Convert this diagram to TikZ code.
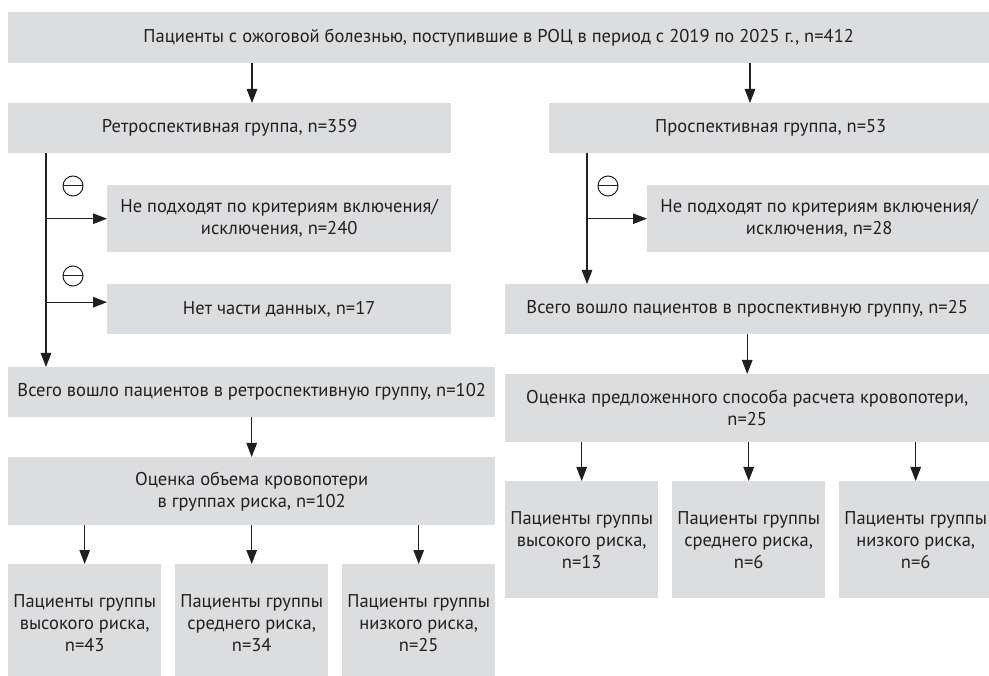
\documentclass[tikz,border=0pt]{standalone}
\usepackage{fontspec}
\setmainfont{PT Sans}
\usetikzlibrary{arrows.meta}
\definecolor{boxgray}{HTML}{DCDDDE}
\definecolor{ink}{HTML}{231F20}
\tikzset{
  box/.style={fill=boxgray, draw=none, anchor=north west, inner sep=0pt, align=center,
    font=\fontsize{18.5}{22}\selectfont, text=ink},
  arr/.style={-{Triangle[width=10.5pt,length=14pt]}, line width=1.2pt, draw=ink},
  minussign/.style={circle, draw=ink, line width=1pt, minimum size=20pt, inner sep=0pt,
    path picture={\draw[ink, line width=1pt] (path picture bounding box.west) -- (path picture bounding box.east);}}
}
\begin{document}
\begin{tikzpicture}[x=1pt,y=-1pt]
\useasboundingbox (0,0) rectangle (989,676);
\clip (0,0) rectangle (989,676);
% boxes
\node[box, minimum width=981, minimum height=51] (top) at (8,12)
  {Пациенты с ожоговой болезнью, поступившие в РОЦ в период с 2019 по 2025 г., n=412};
\node[box, minimum width=443, minimum height=50] (retro) at (8,103) {Ретроспективная группа, n=359};
\node[box, minimum width=443, minimum height=50] (prosp) at (549,103) {Проспективная группа, n=53};
\node[box, minimum width=344, minimum height=67] (excl1) at (107,185)
  {Не подходят по критериям включения/\\исключения, n=240};
\node[box, minimum width=344, minimum height=50] (excl2) at (107,284) {Нет части данных, n=17};
\node[box, minimum width=487, minimum height=50] (retroall) at (8,367)
  {Всего вошло пациентов в ретроспективную группу, n=102};
\node[box, minimum width=487, minimum height=68] (retroeval) at (8,457)
  {Оценка объема кровопотери\\в группах риска, n=102};
\node[box, minimum width=153, minimum height=117] (l1) at (8,564)
  {Пациенты группы\\высокого риска,\\n=43};
\node[box, minimum width=153, minimum height=117] (l2) at (175,564)
  {Пациенты группы\\среднего риска,\\n=34};
\node[box, minimum width=153, minimum height=117] (l3) at (342,564)
  {Пациенты группы\\низкого риска,\\n=25};
\node[box, minimum width=344, minimum height=67] (exclr) at (647,185)
  {Не подходят по критериям включения/\\исключения, n=28};
\node[box, minimum width=484, minimum height=50] (prospall) at (505,284)
  {Всего вошло пациентов в проспективную группу, n=25};
\node[box, minimum width=484, minimum height=68] (prospeval) at (505,374)
  {Оценка предложенного способа расчета кровопотери,\\n=25};
\node[box, minimum width=153, minimum height=117] (r1) at (505,481)
  {Пациенты группы\\высокого риска,\\n=13};
\node[box, minimum width=153, minimum height=117] (r2) at (672,481)
  {Пациенты группы\\среднего риска,\\n=6};
\node[box, minimum width=153, minimum height=117] (r3) at (839,481)
  {Пациенты группы\\низкого риска,\\n=6};
% helper coordinates
\coordinate (a1) at (252,0);
\coordinate (a2) at (750,0);
\coordinate (v1) at (46,0);
\coordinate (v2) at (587,0);
\coordinate (e2) at ([yshift=7pt]excl2.west);
% connectors
\draw[arr] (top.south -| a1) -- (retro.north -| a1);
\draw[arr] (top.south -| a2) -- (prosp.north -| a2);
\draw[arr] (retro.south -| v1) -- (retroall.north -| v1);
\draw[arr] (excl1.west -| v1) -- (excl1.west);
\draw[arr] (e2 -| v1) -- (e2);
\draw[arr] (retroall.south) -- (retroeval.north);
\draw[arr] (retroeval.south -| l1.north) -- (l1.north);
\draw[arr] (retroeval.south -| l2.north) -- (l2.north);
\draw[arr] (retroeval.south -| l3.north) -- (l3.north);
\draw[arr] (prosp.south -| v2) -- (prospall.north -| v2);
\draw[arr] (exclr.west -| v2) -- (exclr.west);
\draw[arr] (prospall.south) -- (prospeval.north);
\draw[arr] (prospeval.south -| r1.north) -- (r1.north);
\draw[arr] (prospeval.south -| r2.north) -- (r2.north);
\draw[arr] (prospeval.south -| r3.north) -- (r3.north);
% exclusion marks
\node[minussign] (m1) at (73,186) {};
\node[minussign] (m2) at (73,276) {};
\node[minussign] (m3) at (608,186) {};
\end{tikzpicture}
\end{document}
